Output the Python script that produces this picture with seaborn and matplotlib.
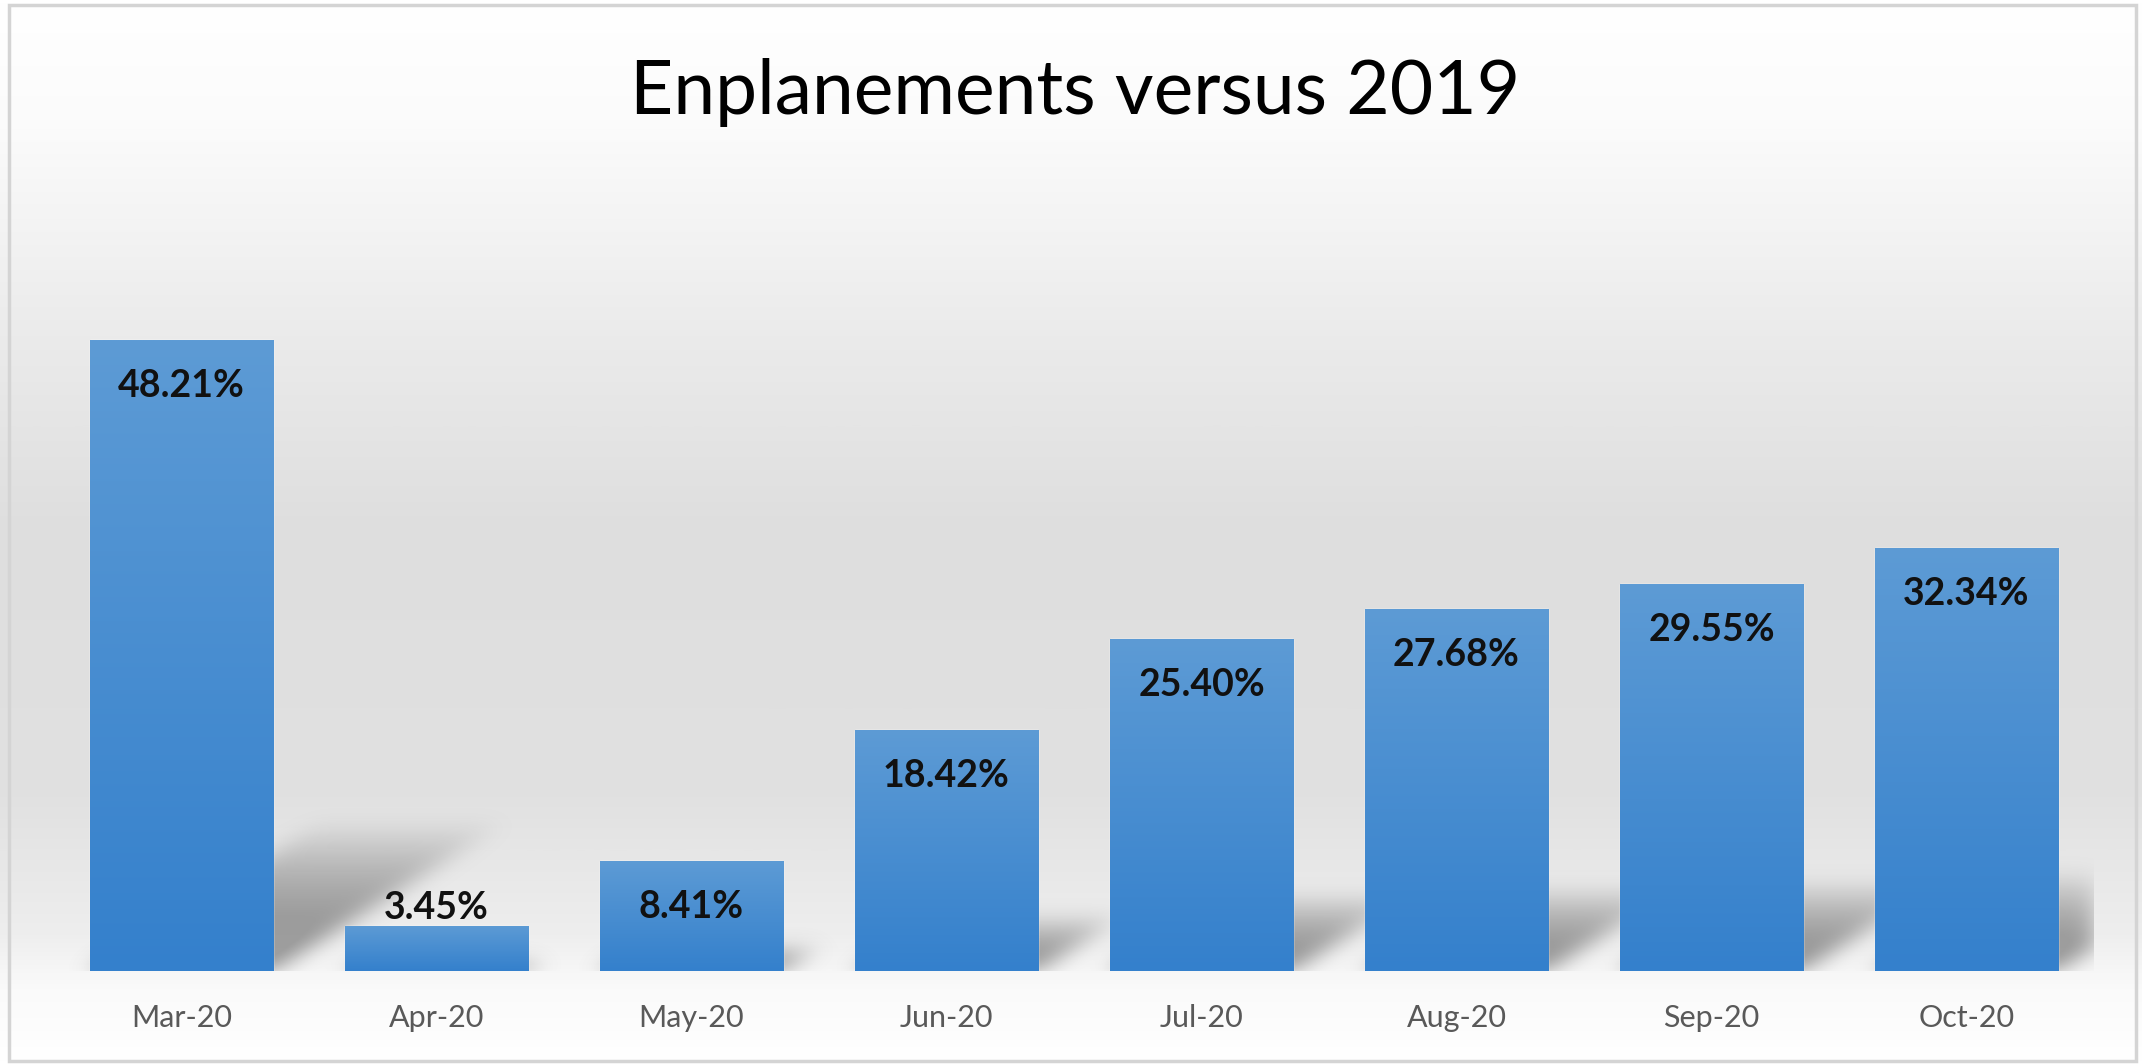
import numpy as np
import matplotlib
matplotlib.use("Agg")
import matplotlib.pyplot as plt
import seaborn as sns
from matplotlib.colors import LinearSegmentedColormap
from matplotlib.patches import Rectangle

# ---- data ----
months = ["Mar-20", "Apr-20", "May-20", "Jun-20", "Jul-20", "Aug-20", "Sep-20", "Oct-20"]
values = [48.21, 3.45, 8.41, 18.42, 25.40, 27.68, 29.55, 32.34]
value_labels = ["48.21%", "3.45%", "8.41%", "18.42%", "25.40%", "27.68%", "29.55%", "32.34%"]
title = "Enplanements versus 2019"

W, H, DPI = 2142, 1064, 100
sns.set_theme(style="white")
plt.rcParams['font.family'] = ['Lato', 'DejaVu Sans']

fig = plt.figure(figsize=(W / DPI, H / DPI), dpi=DPI)
fig.patch.set_facecolor('white')

# ---- background gradient + border ----
bg = fig.add_axes([0, 0, 1, 1], zorder=0)
bg_cmap = LinearSegmentedColormap.from_list('bg', [
    (0.00, '#ffffff'), (0.12, '#fbfbfb'), (0.30, '#ececec'), (0.50, '#dedede'),
    (0.75, '#e1e1e1'), (0.88, '#eeeeee'), (0.93, '#fafafa'), (1.00, '#ffffff')])
grad = np.linspace(0, 1, 512).reshape(-1, 1)
bg.imshow(grad, aspect='auto', cmap=bg_cmap, extent=[0, 1, 0, 1], origin='upper')
bg.add_patch(Rectangle((9 / W, 1 - 1061 / H), (2136 - 9) / W, (1061 - 5) / H,
                       fill=False, ec='#d4d4d4', lw=2.5))
bg.set_xlim(0, 1); bg.set_ylim(0, 1)
bg.axis('off')

# ---- main axes ----
ax = fig.add_axes([54 / W, 0.0874, (2094 - 54) / W, 0.7378], zorder=1)
ax.patch.set_alpha(0)

sns.barplot(x=months, y=values, ax=ax, width=0.72, color='#4a8fd3', saturation=1)
ax.set_xlim(-0.5, len(months) - 0.5)
ax.set_ylim(0, 60)

# soft cast shadows derived from bar values
nx, ny = 2040, 785
xs = np.linspace(-0.5, len(months) - 0.5, nx)
ys = np.linspace(0, 60, ny)
X, Y = np.meshgrid(xs, ys)
inten = np.zeros_like(X)
k = 0.08
for p, v in zip(ax.patches, values):
    xl, xr = p.get_x(), p.get_x() + p.get_width()
    hs = 0.24 * v
    m = (Y < hs) & (X >= xl + k * Y) & (X <= xr + k * Y)
    val = np.where(m, 1 - (Y / hs) ** 2, 0)
    inten = np.maximum(inten, val)

def blur(a, sigma, axis):
    r = int(3 * sigma)
    t = np.arange(-r, r + 1)
    kern = np.exp(-t ** 2 / (2 * sigma ** 2)); kern /= kern.sum()
    return np.apply_along_axis(lambda s: np.convolve(s, kern, mode='same'), axis, a)

inten = blur(blur(inten, 9, 0), 12, 1)
shadow = np.zeros((ny, nx, 4))
shadow[..., :3] = 0.42
shadow[..., 3] = np.clip(inten * 1.15, 0, 1) * 0.62
ax.imshow(shadow, extent=[-0.5, len(months) - 0.5, 0, 60], origin='lower',
          aspect='auto', zorder=0.5, interpolation='bilinear')

# bar gradients
bar_cmap = LinearSegmentedColormap.from_list('bar', ['#5d9bd5', '#3480cc'])
for p in ax.patches:
    x0, w, h = p.get_x(), p.get_width(), p.get_height()
    im = ax.imshow(np.linspace(0, 1, 256).reshape(-1, 1), cmap=bar_cmap, aspect='auto',
                   extent=[x0, x0 + w, 0, h], origin='upper', zorder=1.5)
    im.set_clip_path(p)
ax.set_xlim(-0.5, len(months) - 0.5)
ax.set_ylim(0, 60)

# data labels
for i, (v, lab) in enumerate(zip(values, value_labels)):
    off = 13 if v < 5 else -33
    ax.annotate(lab, (i, v), xytext=(0, off), textcoords='offset points',
                ha='center', va='center', fontsize=27, fontweight='bold',
                color='#111111', zorder=3)

ax.set_xticks(range(len(months)))
ax.set_xticklabels(months)
ax.tick_params(axis='x', length=0, pad=24, labelsize=22, labelcolor='#595959')
ax.set_yticks([])
ax.set_xlabel(''); ax.set_ylabel('')
for s in ax.spines.values():
    s.set_visible(False)

fig.text(0.502, 0.9126, title, ha='center', va='center', fontsize=54, color='black')

fig.savefig('out.png', dpi=DPI, facecolor=fig.get_facecolor())
